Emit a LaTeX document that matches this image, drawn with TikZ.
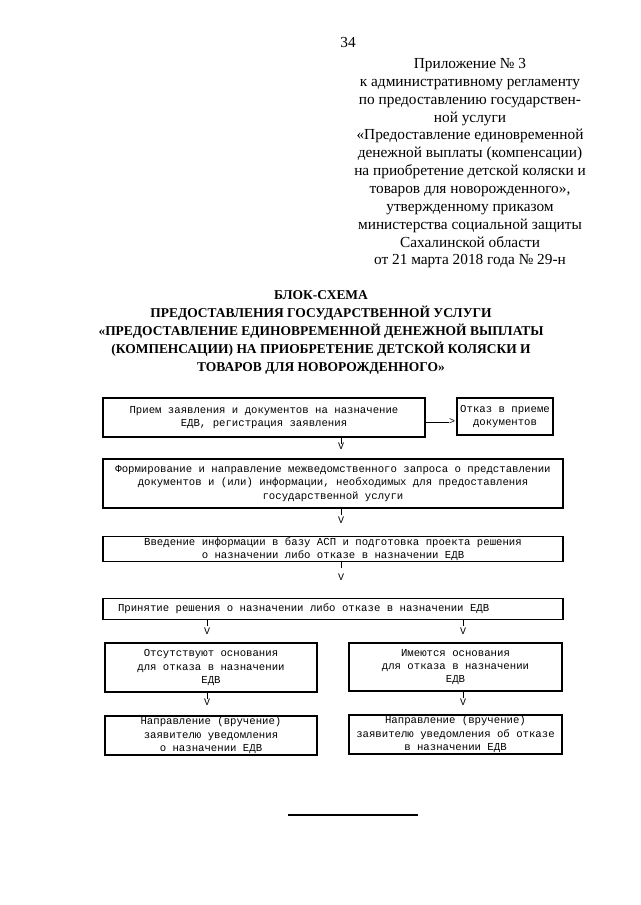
\documentclass[tikz,border=0pt]{standalone}
\usepackage{fontspec}
\setmainfont{Liberation Serif}
\setmonofont{Liberation Mono}
\usepackage{xcolor}
\usetikzlibrary{positioning}

\tikzset{
  procbox/.style={draw, line width=0.8pt, inner sep=0pt, align=center,
    font=\ttfamily\fontsize{8}{10}\selectfont},
  vmark/.style={inner sep=0pt, font=\ttfamily\fontsize{7.5}{8}\selectfont},
  tick/.style={line width=0.6pt}
}

\begin{document}
\begin{tikzpicture}[x=0.75pt,y=0.75pt,yscale=-1,xscale=1]
\useasboundingbox (0,0) rectangle (640,905);

% Text Node
\node (pagenum) at (348,43) [font=\fontsize{11.5}{13}\selectfont] {34};
% Text Node
\node (appendix) at (470,58) [anchor=north, align=center, inner sep=0pt,
  font=\fontsize{11.5}{13.4}\selectfont]
  {Приложение № 3\\
   к административному регламенту\\
   по предоставлению государствен-\\
   ной услуги\\
   «Предоставление единовременной\\
   денежной выплаты (компенсации)\\
   на приобретение детской коляски и\\
   товаров для новорожденного»,\\
   утвержденному приказом\\
   министерства социальной защиты\\
   Сахалинской области\\
   от 21 марта 2018 года № 29-н};
% Text Node
\node (heading) at (321,290) [anchor=north, align=center, inner sep=0pt,
  font=\bfseries\fontsize{10.1}{13.6}\selectfont]
  {БЛОК-СХЕМА\\
   ПРЕДОСТАВЛЕНИЯ ГОСУДАРСТВЕННОЙ УСЛУГИ\\
   «ПРЕДОСТАВЛЕНИЕ ЕДИНОВРЕМЕННОЙ ДЕНЕЖНОЙ ВЫПЛАТЫ\\
   (КОМПЕНСАЦИИ) НА ПРИОБРЕТЕНИЕ ДЕТСКОЙ КОЛЯСКИ И\\
   ТОВАРОВ ДЛЯ НОВОРОЖДЕННОГО»};

%Flowchart: Process
\node (intake) at (264,417.5) [procbox, minimum width=322*0.75pt, minimum height=39*0.75pt]
  {Прием заявления и документов на назначение\\ЕДВ, регистрация заявления};
%Flowchart: Process
\node (refusal) at (505,416.5) [procbox, minimum width=96*0.75pt, minimum height=37*0.75pt]
  {Отказ в приеме\\документов};
%Flowchart: Process
\node (request) at (333,483.5) [procbox, minimum width=460*0.75pt, minimum height=49*0.75pt]
  {Формирование и направление межведомственного запроса о представлении\\
   документов и (или) информации, необходимых для предоставления\\
   государственной услуги};
%Flowchart: Process
\node (entry) at (333,549) [procbox, minimum width=460*0.75pt, minimum height=25*0.75pt]
  {Введение информации в базу АСП и подготовка проекта решения\\
   о назначении либо отказе в назначении ЕДВ};
%Flowchart: Process
\node (decision) at (333,609) [procbox, minimum width=460*0.75pt, minimum height=21*0.75pt]
  {Принятие решения о назначении либо отказе в назначении ЕДВ\hspace*{44pt}};
%Flowchart: Process
\node (nogrounds) at (211,667.5) [procbox, minimum width=212*0.75pt, minimum height=49*0.75pt]
  {Отсутствуют основания\\для отказа в назначении\\ЕДВ};
%Flowchart: Process
\node (grounds) at (455.5,667) [procbox, minimum width=213*0.75pt, minimum height=48*0.75pt]
  {Имеются основания\\для отказа в назначении\\ЕДВ};
%Flowchart: Process
\node (grant) at (211,735.5) [procbox, minimum width=212*0.75pt, minimum height=39*0.75pt]
  {Направление (вручение)\\заявителю уведомления\\о назначении ЕДВ};
%Flowchart: Process
\node (deny) at (455.5,734.5) [procbox, minimum width=213*0.75pt, minimum height=39*0.75pt]
  {Направление (вручение)\\заявителю уведомления об отказе\\в назначении ЕДВ};

% Text Node
\node (gt) at (452,422) [vmark] {>};
\node (v1) at (341,446) [vmark] {V};
\node (v2) at (341,520) [vmark] {V};
\node (v3) at (341,577) [vmark] {V};
\node (v4) at (207,631) [vmark] {V};
\node (v5) at (463,631) [vmark] {V};
\node (v6) at (207,702) [vmark] {V};
\node (v7) at (463,702) [vmark] {V};

%Straight Lines
\draw [tick] (intake.east |- gt) -- (gt.west);
\draw [tick] (intake.south -| v1) -- ++(0,6);
\draw [tick] (request.south -| v2) -- ++(0,6);
\draw [tick] (entry.south -| v3) -- ++(0,6);
\draw [tick] (decision.south -| v4) -- ++(0,6);
\draw [tick] (decision.south -| v5) -- ++(0,6);
\draw [tick] (nogrounds.south -| v6) -- ++(0,6);
\draw [tick] (grounds.south -| v7) -- ++(0,6);

%Straight Lines
\draw [line width=0.8pt] (288,815) -- (418,815);

\end{tikzpicture}
\end{document}
